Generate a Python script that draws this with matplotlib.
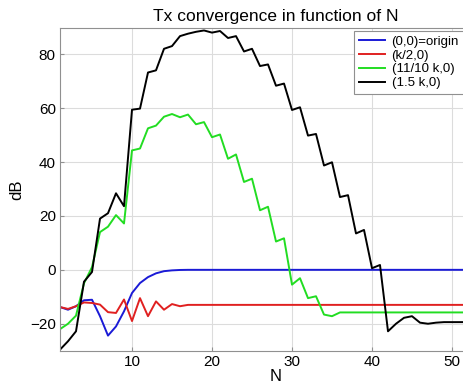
import matplotlib
matplotlib.use('Agg')
import matplotlib.pyplot as plt

# number of terms N and the transmitted level (dB) for each observation point
N = list(range(1, 56))

origin = [-13.8, -14.8, -13.5, -11.3, -11.1, -17.2, -24.4, -21.0, -15.4, -8.6,
          -4.9, -2.7, -1.3, -0.5, -0.2, -0.05] + [0.0] * 39

half_k = [-13.8, -14.5, -13.5, -12.1, -12.3, -12.9, -15.7, -16.0, -11.0, -19.0,
          -10.5, -17.2, -11.7, -14.8, -12.7, -13.5] + [-13.0] * 39

k_11_10 = [-22.0, -20.0, -17.0, -5.0, 1.0, 14.0, 16.0, 20.3, 17.2, 44.3,
           45.0, 52.5, 53.5, 56.8, 57.8, 56.6, 57.6, 54.0, 54.8, 49.2,
           50.2, 41.2, 42.8, 32.6, 33.8, 22.1, 23.4, 10.5, 11.7, -5.5,
           -3.1, -10.5, -9.8, -16.6, -17.2, -15.8] + [-15.8] * 19

k_1_5 = [-29.6, -26.5, -22.8, -4.4, -0.8, 19.0, 21.0, 28.4, 23.6, 59.4,
         59.8, 73.2, 74.0, 82.0, 83.0, 86.7, 87.6, 88.3, 88.8, 88.0,
         88.6, 86.0, 86.7, 81.0, 82.0, 75.6, 76.2, 68.3, 69.1, 59.3,
         60.3, 49.8, 50.4, 38.7, 39.9, 27.0, 27.7, 13.5, 14.8, 0.6,
         1.8, -22.8, -20.0, -17.8, -17.2, -19.6, -20.0, -19.6, -19.4, -19.4] + [-19.4] * 5

labels = ['(0,0)=origin', '(k/2,0)', '(11/10 k,0)', '(1.5 k,0)']
colors = ['#1a1ad6', '#e02020', '#22dd22', '#000000']

plt.rcParams['font.family'] = ['Liberation Sans', 'DejaVu Sans']

fig = plt.figure(figsize=(4.64, 3.90), dpi=100)
ax = fig.add_axes([60 / 464, 1 - 350.7 / 390, 432 / 464, (350.7 - 28.3) / 390])

for ys, c, lab in zip([origin, half_k, k_11_10, k_1_5], colors, labels):
    ax.plot(N, ys, color=c, lw=1.4, label=lab)

ax.set_xlim(1, 55)
ax.set_ylim(-30, 89.6)
ax.set_xticks([10, 20, 30, 40, 50])
ax.set_yticks([-20, 0, 20, 40, 60, 80])
ax.grid(True, color='#dcdcdc', lw=0.8)
ax.set_axisbelow(True)
for s in ax.spines.values():
    s.set_color('#909090')
ax.tick_params(direction='in', length=3, color='#909090', labelsize=11, pad=3)

ax.set_title('Tx convergence in function of N', fontsize=12.5, pad=5)
ax.set_xlabel('N', fontsize=12, labelpad=0)
ax.set_ylabel('dB', fontsize=12, labelpad=4)

leg = fig.legend(loc='upper left', bbox_to_anchor=(354 / 464, 1 - 31 / 390),
                 fontsize=9.5, handlelength=2.0, handletextpad=0.5,
                 labelspacing=0.12, borderpad=0.35, borderaxespad=0,
                 fancybox=False, framealpha=1)
leg.get_frame().set_edgecolor('#909090')
leg.get_frame().set_linewidth(0.8)

fig.savefig('out.png', dpi=100)
